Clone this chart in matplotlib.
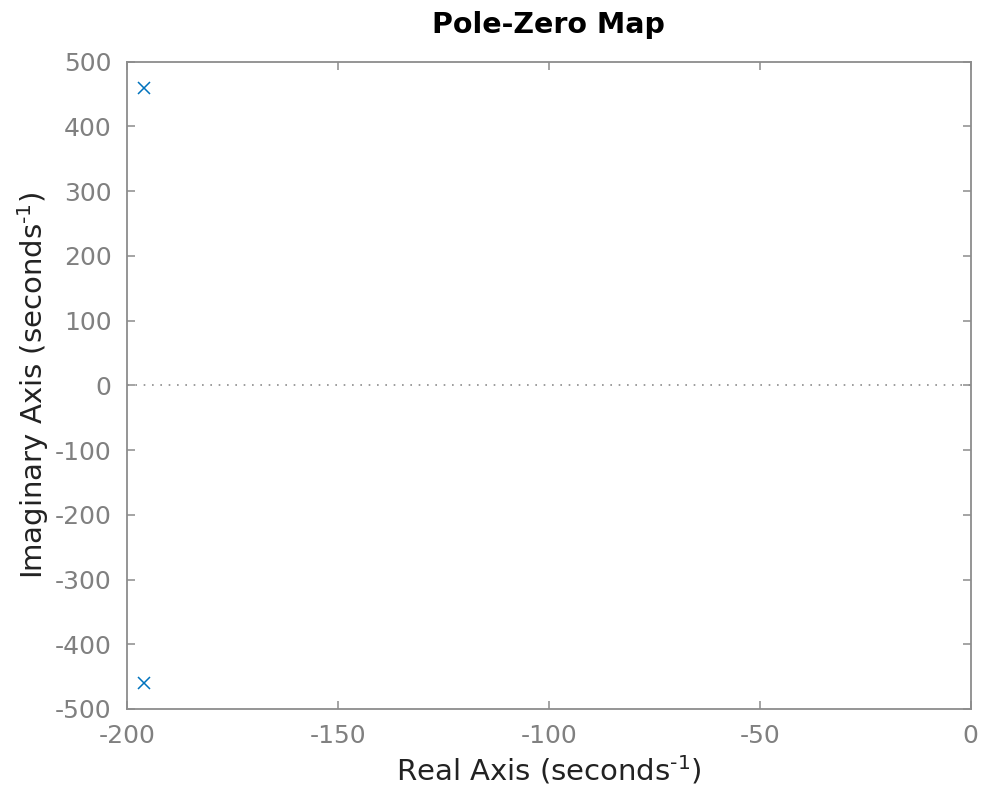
import numpy as np
import matplotlib
matplotlib.use("Agg")
import matplotlib.pyplot as plt

# pole locations (real, imag)
pole_re = [-196, -196]
pole_im = [460, -460]

xticks = [-200, -150, -100, -50, 0]
yticks = [-500, -400, -300, -200, -100, 0, 100, 200, 300, 400, 500]

plt.rcParams['font.family'] = ['DejaVu Sans']
plt.rcParams['axes.unicode_minus'] = False

fig = plt.figure(figsize=(9.83, 7.96), dpi=100)
ax = fig.add_axes([0.1292, 0.1093, 0.8581, 0.8132])

gray = "#808080"

# zero line
ax.axhline(0, color="#8c8c8c", lw=1.2, ls=(0, (1, 4)))

ax.plot(pole_re, pole_im, ls="none", marker="x", color="#0072BD",
        markersize=9, markeredgewidth=1.1)

ax.set_xlim(-200, 0)
ax.set_ylim(-500, 500)
ax.set_xticks(xticks)
ax.set_yticks(yticks)

for s in ax.spines.values():
    s.set_color("#8c8c8c")
    s.set_linewidth(1.3)

ax.tick_params(direction="in", length=6, width=1.1, color="#8c8c8c",
               labelcolor=gray, labelsize=18, top=True, right=True, pad=11)

ax.set_title("Pole-Zero Map", fontsize=20.5, fontweight="bold", pad=21)
ax.set_xlabel(r"Real Axis (seconds$^{\text{-1}}$)", fontsize=21, color="#222222", labelpad=4)
ax.set_ylabel(r"Imaginary Axis (seconds$^{\text{-1}}$)", fontsize=21, color="#222222", labelpad=3)

fig.savefig("out.png", dpi=100)
